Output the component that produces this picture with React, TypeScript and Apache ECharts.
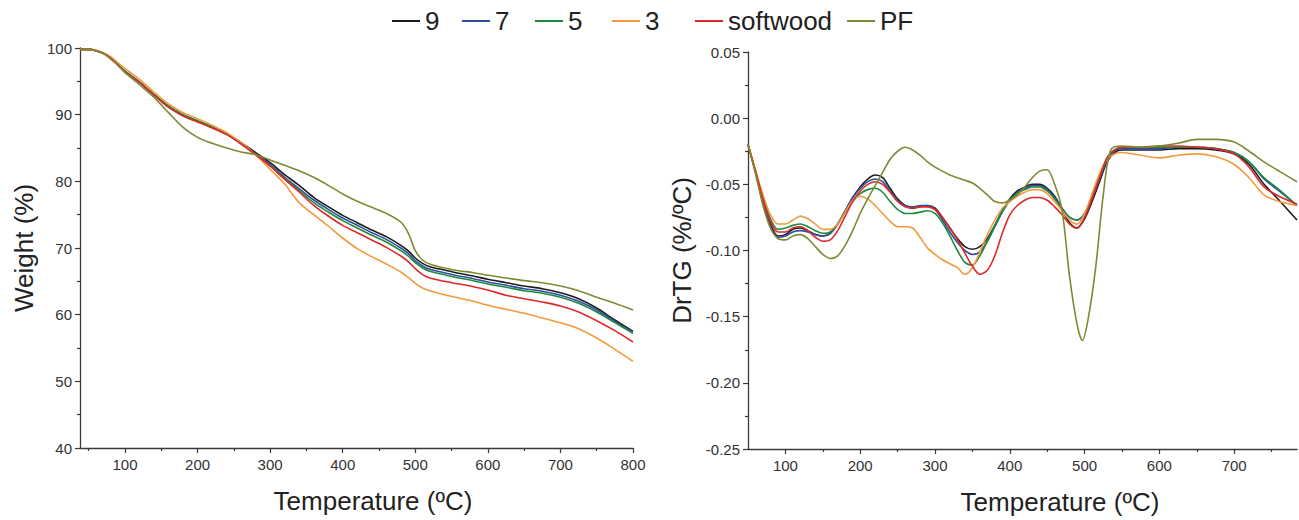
import React, { useEffect, useRef } from "react";
import * as echarts from "echarts";

// ---------- Data ----------
const seriesNames = ["9", "7", "5", "3", "softwood", "PF"];
const seriesColors = ["#1c1c1c", "#2c4f9f", "#1f8a3d", "#f39a3d", "#e02828", "#7f8a35"];

// TG (left)
const tgTemps = [38, 50, 60, 70, 80, 90, 100, 120, 140, 160, 180, 200, 220, 240, 260, 280, 300, 320, 340, 360, 380, 400, 420, 440, 460, 480, 490, 500, 510, 520, 540, 560, 580, 600, 625, 650, 675, 700, 725, 750, 775, 800];
const tg9 = [99.8, 99.8, 99.6, 99.2, 98.5, 97.5, 96.5, 94.9, 93.0, 91.2, 89.9, 89.0, 88.1, 87.2, 85.8, 84.3, 82.8, 81.0, 79.4, 77.6, 76.2, 74.9, 73.8, 72.7, 71.7, 70.4, 69.6, 68.5, 67.7, 67.2, 66.7, 66.2, 65.8, 65.3, 64.8, 64.3, 63.9, 63.3, 62.4, 61.0, 59.2, 57.5];
const tg7 = [99.8, 99.8, 99.6, 99.2, 98.5, 97.5, 96.5, 94.9, 93.0, 91.2, 89.9, 89.0, 88.1, 87.1, 85.7, 84.1, 82.5, 80.6, 78.9, 77.2, 75.8, 74.5, 73.4, 72.3, 71.3, 70.0, 69.2, 68.1, 67.3, 66.8, 66.3, 65.8, 65.4, 64.9, 64.4, 63.9, 63.5, 62.9, 62.0, 60.7, 59.0, 57.4];
const tg5 = [99.8, 99.8, 99.6, 99.2, 98.5, 97.5, 96.5, 94.9, 93.0, 91.3, 90.0, 89.1, 88.2, 87.2, 85.7, 84.0, 82.3, 80.4, 78.6, 76.8, 75.4, 74.1, 73.0, 71.9, 70.9, 69.6, 68.8, 67.8, 67.0, 66.5, 66.0, 65.5, 65.1, 64.6, 64.1, 63.6, 63.2, 62.6, 61.7, 60.4, 58.8, 57.2];
const tg3 = [99.8, 99.8, 99.7, 99.3, 98.7, 97.8, 96.9, 95.3, 93.4, 91.6, 90.3, 89.4, 88.4, 87.3, 85.8, 84.0, 81.8, 79.6, 76.8, 75.0, 73.3, 71.5, 69.9, 68.7, 67.6, 66.4, 65.6, 64.7, 64.0, 63.6, 63.0, 62.5, 62.0, 61.4, 60.8, 60.2, 59.5, 58.8, 57.9, 56.5, 54.8, 53.0];
const tgSoftwood = [99.8, 99.8, 99.6, 99.2, 98.5, 97.5, 96.4, 94.8, 92.9, 91.1, 89.8, 88.9, 88.0, 87.0, 85.6, 84.0, 82.3, 80.3, 78.4, 76.4, 74.8, 73.4, 72.3, 71.2, 70.1, 68.8, 68.0, 66.9, 66.0, 65.5, 65.0, 64.6, 64.2, 63.7, 62.9, 62.4, 61.9, 61.3, 60.4, 59.1, 57.6, 55.9];
const tgPF = [99.8, 99.8, 99.6, 99.2, 98.4, 97.4, 96.3, 94.5, 92.6, 90.3, 88.1, 86.6, 85.7, 85.0, 84.4, 84.0, 83.2, 82.4, 81.6, 80.6, 79.4, 78.1, 77.0, 76.1, 75.2, 73.9, 72.3, 69.6, 68.2, 67.6, 67.0, 66.6, 66.3, 65.9, 65.5, 65.1, 64.8, 64.3, 63.6, 62.6, 61.7, 60.7];

// DTG (right)
const dtgTemps = [50, 60, 70, 80, 90, 100, 110, 120, 130, 140, 150, 160, 170, 180, 190, 200, 210, 220, 230, 240, 250, 260, 270, 280, 290, 300, 310, 320, 330, 340, 350, 360, 370, 380, 390, 400, 410, 420, 430, 440, 450, 460, 470, 480, 490, 500, 510, 520, 530, 540, 550, 575, 600, 625, 650, 675, 700, 720, 740, 760, 784];
const dtg9 = [-0.020, -0.040, -0.062, -0.080, -0.089, -0.088, -0.084, -0.083, -0.085, -0.088, -0.089, -0.087, -0.080, -0.070, -0.060, -0.052, -0.046, -0.043, -0.045, -0.053, -0.061, -0.066, -0.068, -0.067, -0.066, -0.068, -0.075, -0.083, -0.091, -0.097, -0.099, -0.097, -0.091, -0.081, -0.070, -0.061, -0.055, -0.052, -0.050, -0.050, -0.053, -0.059, -0.069, -0.079, -0.083, -0.076, -0.063, -0.048, -0.033, -0.026, -0.024, -0.024, -0.024, -0.023, -0.023, -0.024, -0.027, -0.035, -0.050, -0.062, -0.077];
const dtg7 = [-0.020, -0.041, -0.064, -0.082, -0.090, -0.089, -0.086, -0.085, -0.086, -0.088, -0.089, -0.087, -0.080, -0.070, -0.060, -0.053, -0.048, -0.046, -0.048, -0.055, -0.062, -0.066, -0.067, -0.066, -0.066, -0.069, -0.077, -0.086, -0.094, -0.100, -0.103, -0.101, -0.093, -0.082, -0.071, -0.062, -0.056, -0.053, -0.051, -0.051, -0.054, -0.060, -0.068, -0.075, -0.077, -0.072, -0.060, -0.046, -0.032, -0.025, -0.023, -0.023, -0.023, -0.022, -0.022, -0.023, -0.026, -0.033, -0.046, -0.055, -0.066];
const dtg5 = [-0.020, -0.040, -0.060, -0.076, -0.084, -0.083, -0.081, -0.080, -0.082, -0.085, -0.087, -0.086, -0.080, -0.071, -0.063, -0.057, -0.054, -0.053, -0.056, -0.063, -0.069, -0.072, -0.072, -0.071, -0.070, -0.072, -0.079, -0.089, -0.100, -0.109, -0.111, -0.104, -0.093, -0.081, -0.070, -0.062, -0.057, -0.054, -0.052, -0.052, -0.055, -0.061, -0.069, -0.075, -0.077, -0.072, -0.059, -0.044, -0.030, -0.024, -0.022, -0.022, -0.022, -0.022, -0.022, -0.023, -0.026, -0.033, -0.045, -0.054, -0.066];
const dtg3 = [-0.020, -0.039, -0.058, -0.073, -0.080, -0.080, -0.077, -0.074, -0.076, -0.080, -0.084, -0.084, -0.080, -0.071, -0.062, -0.059, -0.061, -0.066, -0.072, -0.078, -0.082, -0.082, -0.083, -0.090, -0.098, -0.103, -0.107, -0.110, -0.113, -0.118, -0.113, -0.101, -0.088, -0.077, -0.068, -0.063, -0.059, -0.056, -0.054, -0.054, -0.057, -0.063, -0.070, -0.077, -0.080, -0.072, -0.057, -0.042, -0.031, -0.027, -0.026, -0.028, -0.030, -0.028, -0.027, -0.029, -0.035, -0.045, -0.058, -0.063, -0.066];
const dtgSoftwood = [-0.020, -0.040, -0.061, -0.078, -0.086, -0.086, -0.083, -0.082, -0.085, -0.090, -0.093, -0.092, -0.085, -0.074, -0.063, -0.055, -0.050, -0.048, -0.050, -0.056, -0.063, -0.067, -0.068, -0.067, -0.067, -0.069, -0.075, -0.083, -0.092, -0.102, -0.112, -0.118, -0.115, -0.104, -0.087, -0.073, -0.066, -0.062, -0.060, -0.060, -0.062, -0.067, -0.073, -0.080, -0.083, -0.075, -0.061, -0.045, -0.030, -0.024, -0.022, -0.022, -0.021, -0.021, -0.022, -0.023, -0.027, -0.037, -0.052, -0.059, -0.065];
const dtgPFTemps = [50, 60, 70, 80, 90, 100, 110, 120, 130, 140, 150, 160, 170, 180, 190, 200, 210, 220, 230, 240, 250, 260, 270, 280, 290, 300, 310, 320, 330, 340, 350, 360, 370, 380, 390, 400, 410, 420, 430, 440, 450, 460, 470, 480, 490, 497, 505, 515, 525, 535, 550, 575, 600, 625, 650, 675, 700, 720, 740, 760, 784];
const dtgPF = [-0.020, -0.042, -0.066, -0.083, -0.091, -0.092, -0.089, -0.088, -0.091, -0.097, -0.103, -0.106, -0.104, -0.096, -0.085, -0.072, -0.061, -0.051, -0.041, -0.031, -0.025, -0.022, -0.024, -0.028, -0.033, -0.037, -0.040, -0.043, -0.045, -0.047, -0.049, -0.053, -0.058, -0.063, -0.064, -0.062, -0.058, -0.052, -0.045, -0.040, -0.039, -0.050, -0.070, -0.120, -0.156, -0.168, -0.151, -0.112, -0.058, -0.024, -0.021, -0.022, -0.021, -0.019, -0.016, -0.016, -0.018, -0.025, -0.033, -0.040, -0.048];

// Ticks
const tgMajorX = [100, 200, 300, 400, 500, 600, 700, 800];
const tgMinorX = [50, 150, 250, 350, 450, 550, 650, 750];
const dtgMajorX = [100, 200, 300, 400, 500, 600, 700];
const dtgMinorX = [150, 250, 350, 450, 550, 650, 750];

const tgValues = [tg9, tg7, tg5, tg3, tgSoftwood, tgPF];
const dtgValues = [dtg9, dtg7, dtg5, dtg3, dtgSoftwood, dtgPF];

const legendLefts = [392, 462, 535, 612, 695, 847];

const AXIS_COLOR = "#3a3a3a";
const LABEL_COLOR = "#333";
const FONT = "'Liberation Sans', Arial, sans-serif";

export default function App() {
  const ref = useRef<HTMLDivElement>(null);
  useEffect(() => {
    if (!ref.current) return;
    const chart = echarts.init(ref.current, undefined, { renderer: "svg" });

    const axisLine = { show: true, onZero: false, lineStyle: { color: AXIS_COLOR, width: 1.3 } };
    const tickLine = { color: AXIS_COLOR, width: 1.2 };
    const labelStyle = { fontSize: 15, color: LABEL_COLOR, fontFamily: FONT };
    const nameStyle = { fontSize: 26, color: "#222", fontFamily: FONT };

    const makeLine = (n: string, i: number, data: number[][], xi: number, yi: number) => ({
      name: n,
      type: "line",
      xAxisIndex: xi,
      yAxisIndex: yi,
      data,
      symbol: "none",
      smooth: 0.3,
      lineStyle: { width: 1.6, color: seriesColors[i] },
      itemStyle: { color: seriesColors[i] },
      z: i === 5 ? 3 : 2,
    });

    const series: any[] = [];
    seriesNames.forEach((n, i) => {
      series.push(makeLine(n, i, tgTemps.map((t, k) => [t, tgValues[i][k]]), 0, 0));
    });
    seriesNames.forEach((n, i) => {
      const temps = i === 5 ? dtgPFTemps : dtgTemps;
      series.push(makeLine(n, i, temps.map((t, k) => [t, dtgValues[i][k]]), 2, 1));
    });

    const option: any = {
      animation: false,
      backgroundColor: "#ffffff",
      textStyle: { fontFamily: FONT },
      legend: seriesNames.map((n, i) => ({
        data: [n],
        left: legendLefts[i],
        top: 8,
        itemWidth: 28,
        itemHeight: 2,
        icon: "rect",
        selectedMode: false,
        padding: 0,
        textStyle: { fontSize: 26, color: "#222", fontFamily: FONT },
      })),
      grid: [
        { left: 80, top: 48, width: 553, height: 400 },
        { left: 748, top: 52, width: 549, height: 397 },
      ],
      xAxis: [
        {
          gridIndex: 0,
          type: "value",
          min: 38,
          max: 800,
          position: "bottom",
          axisLine,
          axisTick: { show: true, length: 5, lineStyle: tickLine, customValues: tgMajorX },
          axisLabel: { ...labelStyle, margin: 9, customValues: tgMajorX },
          splitLine: { show: false },
          name: "Temperature (ºC)",
          nameLocation: "middle",
          nameGap: 40,
          nameTextStyle: { ...nameStyle, padding: [0, 0, 0, 33] },
        },
        {
          gridIndex: 0,
          type: "value",
          min: 38,
          max: 800,
          position: "bottom",
          offset: 0,
          axisLine: { show: false, onZero: false },
          axisTick: { show: true, length: 3, lineStyle: tickLine, customValues: tgMinorX },
          axisLabel: { show: false },
          splitLine: { show: false },
        },
        {
          gridIndex: 1,
          type: "value",
          min: 50,
          max: 784,
          position: "bottom",
          axisLine,
          axisTick: { show: true, length: 5, lineStyle: tickLine, customValues: dtgMajorX },
          axisLabel: { ...labelStyle, margin: 9, customValues: dtgMajorX },
          splitLine: { show: false },
          name: "Temperature (ºC)",
          nameLocation: "middle",
          nameGap: 40,
          nameTextStyle: { ...nameStyle, padding: [0, 0, 0, 75] },
        },
        {
          gridIndex: 1,
          type: "value",
          min: 50,
          max: 784,
          position: "bottom",
          offset: 0,
          axisLine: { show: false, onZero: false },
          axisTick: { show: true, length: 3, lineStyle: tickLine, customValues: dtgMinorX },
          axisLabel: { show: false },
          splitLine: { show: false },
        },
      ],
      yAxis: [
        {
          gridIndex: 0,
          type: "value",
          min: 40,
          max: 100,
          interval: 10,
          axisLine,
          axisTick: { show: true, length: 5, lineStyle: tickLine },
          minorTick: { show: true, splitNumber: 2, length: 3, lineStyle: tickLine },
          axisLabel: { ...labelStyle, margin: 8 },
          splitLine: { show: false },
          minorSplitLine: { show: false },
          name: "Weight (%)",
          nameLocation: "middle",
          nameGap: 43,
          nameTextStyle: nameStyle,
        },
        {
          gridIndex: 1,
          type: "value",
          min: -0.25,
          max: 0.05,
          interval: 0.05,
          axisLine,
          axisTick: { show: true, length: 5, lineStyle: tickLine },
          minorTick: { show: true, splitNumber: 2, length: 3, lineStyle: tickLine },
          axisLabel: {
            ...labelStyle,
            margin: 8,
            formatter: (v: number) => (Math.abs(v) < 1e-9 ? "0.00" : v.toFixed(2)),
          },
          splitLine: { show: false },
          minorSplitLine: { show: false },
          name: "DrTG (%/ºC)",
          nameLocation: "middle",
          nameGap: 53,
          nameTextStyle: nameStyle,
        },
      ],
      series,
    };
    chart.setOption(option);
    return () => chart.dispose();
  }, []);

  return (
    <div
      ref={ref}
      style={{ position: "absolute", left: 0, top: 0, width: 1299, height: 520, background: "#fff" }}
    />
  );
}
